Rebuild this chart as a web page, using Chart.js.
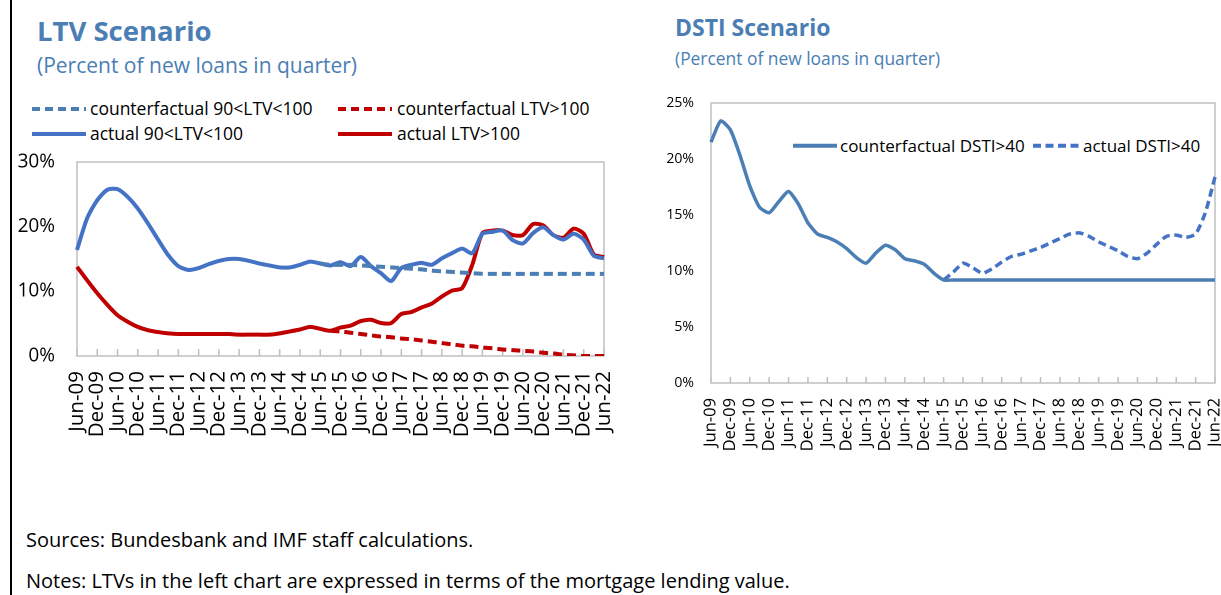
<!DOCTYPE html>
<html lang="en">
<head>
<meta charset="UTF-8">
<title>LTV and DSTI Scenario</title>
<script src="https://cdn.jsdelivr.net/npm/chart.js"></script>
<style>
    body {
        margin: 0;
        width: 1221px;
        height: 595px;
        position: relative;
        overflow: hidden;
        background: #fff;
        font-family: 'Open Sans', sans-serif;
        color: #000;
    }
    .rule {
        position: absolute;
        left: 10px;
        top: 0;
        width: 2px;
        height: 595px;
        background: #000;
    }
    .txt {
        position: absolute;
        line-height: 1;
        white-space: nowrap;
    }
    .title { color: #4a7eb4; font-weight: bold; }
    .sub { color: #4a7eb4; }
    .box { position: absolute; }
    .leg { position: absolute; white-space: nowrap; line-height: 1; }
    .leg svg { position: absolute; left: 0; }
</style>
</head>
<body>
<div class="rule"></div>

<div class="txt title" style="left:37px; top:17px; font-size:27.5px;">LTV Scenario</div>
<div class="txt sub" style="left:37px; top:55px; font-size:21px;">(Percent of new loans in quarter)</div>

<div class="txt title" style="left:675px; top:16px; font-size:23px;">DSTI Scenario</div>
<div class="txt sub" style="left:675px; top:50px; font-size:17.4px;">(Percent of new loans in quarter)</div>

<div id="ltvLegend"></div>
<div id="dstiLegend"></div>

<div class="box" style="left:0; top:140px; width:616px; height:310px;">
    <canvas id="ltvChart"></canvas>
</div>
<div class="box" style="left:640px; top:90px; width:581px; height:370px;">
    <canvas id="dstiChart"></canvas>
</div>

<div class="txt" style="left:26px; top:530px; font-size:20px;">Sources: Bundesbank and IMF staff calculations.</div>
<div class="txt" style="left:26px; top:571px; font-size:20px;">Notes: LTVs in the left chart are expressed in terms of the mortgage lending value.</div>

<script>
// quarters, Jun-09 .. Jun-22
const quarters = [
    'Jun-09', 'Sep-09', 'Dec-09',
    'Mar-10', 'Jun-10', 'Sep-10', 'Dec-10',
    'Mar-11', 'Jun-11', 'Sep-11', 'Dec-11',
    'Mar-12', 'Jun-12', 'Sep-12', 'Dec-12',
    'Mar-13', 'Jun-13', 'Sep-13', 'Dec-13',
    'Mar-14', 'Jun-14', 'Sep-14', 'Dec-14',
    'Mar-15', 'Jun-15', 'Sep-15', 'Dec-15',
    'Mar-16', 'Jun-16', 'Sep-16', 'Dec-16',
    'Mar-17', 'Jun-17', 'Sep-17', 'Dec-17',
    'Mar-18', 'Jun-18', 'Sep-18', 'Dec-18',
    'Mar-19', 'Jun-19', 'Sep-19', 'Dec-19',
    'Mar-20', 'Jun-20', 'Sep-20', 'Dec-20',
    'Mar-21', 'Jun-21', 'Sep-21', 'Dec-21',
    'Mar-22', 'Jun-22'
];

// LTV scenario (percent)
const actualLtv90 = [
    16.4, 21.3, 24.1, 25.7, 25.8, 24.6, 22.8, 20.5, 18.0, 15.6,
    13.9, 13.3, 13.6, 14.2, 14.7, 15.0, 15.0, 14.7, 14.3, 14.0,
    13.7, 13.7, 14.1, 14.6, 14.3, 14.0, 14.5, 13.9, 15.3, 13.9,
    12.8, 11.6, 13.6, 14.1, 14.4, 14.1, 15.1, 15.9, 16.6, 15.9,
    18.9, 19.2, 19.4, 17.9, 17.4, 19.0, 19.9, 18.7, 18.0, 18.9,
    18.0, 15.5, 15.1
];
const actualLtv100 = [
    13.8, 11.7, 9.7, 7.9, 6.3, 5.3, 4.5, 4.0, 3.7, 3.5,
    3.4, 3.4, 3.4, 3.4, 3.4, 3.4, 3.3, 3.3, 3.3, 3.3,
    3.5, 3.8, 4.1, 4.5, 4.2, 3.9, 4.4, 4.7, 5.4, 5.6,
    5.1, 5.1, 6.5, 6.8, 7.5, 8.1, 9.2, 10.1, 10.5, 14.1,
    19.0, 19.4, 19.4, 18.7, 18.7, 20.4, 20.2, 18.7, 18.3, 19.7,
    18.9, 15.7, 15.3
];
const cfLtv90 = [
    null, null, null, null, null, null, null, null, null, null,
    null, null, null, null, null, null, null, null, null, null,
    null, null, null, null, 14.3, 14.1, 14.1, 14.1, 14.0, 13.9,
    13.8, 13.7, 13.6, 13.5, 13.4, 13.2, 13.1, 13.0, 12.9, 12.8,
    12.7, 12.7, 12.7, 12.7, 12.7, 12.7, 12.7, 12.7, 12.7, 12.7,
    12.7, 12.7, 12.7
];
const cfLtv100 = [
    null, null, null, null, null, null, null, null, null, null,
    null, null, null, null, null, null, null, null, null, null,
    null, null, null, null, null, 3.9, 3.8, 3.6, 3.4, 3.2,
    3.0, 2.9, 2.7, 2.6, 2.4, 2.2, 2.0, 1.8, 1.6, 1.5,
    1.3, 1.2, 1.0, 0.9, 0.8, 0.7, 0.5, 0.4, 0.2, 0.1,
    0.0, 0.0, 0.0
];

// DSTI scenario (percent)
const cfDsti40 = [
    21.5, 23.4, 22.6, 20.3, 17.6, 15.7, 15.2, 16.2, 17.1, 16.0,
    14.3, 13.3, 13.0, 12.6, 12.0, 11.2, 10.7, 11.6, 12.3, 11.9,
    11.1, 10.9, 10.6, 9.8, 9.2, 9.2, 9.2, 9.2, 9.2, 9.2,
    9.2, 9.2, 9.2, 9.2, 9.2, 9.2, 9.2, 9.2, 9.2, 9.2,
    9.2, 9.2, 9.2, 9.2, 9.2, 9.2, 9.2, 9.2, 9.2, 9.2,
    9.2, 9.2, 9.2
];
const actualDsti40 = [
    null, null, null, null, null, null, null, null, null, null,
    null, null, null, null, null, null, null, null, null, null,
    null, null, null, null, 9.2, 9.9, 10.7, 10.3, 9.8, 10.2,
    10.8, 11.3, 11.5, 11.8, 12.1, 12.5, 12.9, 13.3, 13.4, 13.1,
    12.6, 12.2, 11.8, 11.3, 11.1, 11.6, 12.4, 13.1, 13.2, 13.0,
    13.3, 15.2, 18.4
];

const BLUE = '#4472c4';
const STEEL = '#4a7eb4';
const RED = '#c00000';

Chart.defaults.font.family = "'Open Sans', sans-serif";
Chart.defaults.color = '#000';

// plot box and small inward tick marks every second quarter
const plotFrame = {
    id: 'plotFrame',
    beforeDatasetsDraw(chart, args, opts) {
        const { ctx, chartArea: a, scales } = chart;
        const x = scales.x;
        ctx.save();
        ctx.strokeStyle = '#bfbfbf';
        ctx.lineWidth = 1.5;
        ctx.strokeRect(a.left, a.top, a.right - a.left, a.bottom - a.top);
        ctx.beginPath();
        for (let i = 0; i < x.ticks.length; i += 2) {
            const px = x.getPixelForTick(i);
            ctx.moveTo(px, a.bottom);
            ctx.lineTo(px, a.bottom - opts.len);
        }
        ctx.stroke();
        ctx.restore();
    }
};

function line(label, data, color, width, dash) {
    return {
        label: label,
        data: data,
        borderColor: color,
        backgroundColor: color,
        borderWidth: width,
        borderDash: dash || [],
        pointRadius: 0,
        fill: false,
        spanGaps: false
    };
}

// fixed axis size, and no extra room for labels sticking out at the ends
function fixSize(s, key, val) {
    s[key] = val;
    s.paddingLeft = 0;
    s.paddingRight = 0;
    s.paddingTop = 0;
    s.paddingBottom = 0;
}

function options(yMax, yStep, yWidth, xHeight, xFont, xPad, yFont, yPad, pad, tension, tickLen) {
    return {
        responsive: true,
        maintainAspectRatio: false,
        animation: false,
        devicePixelRatio: 2,
        layout: { padding: pad, autoPadding: false },
        elements: { line: { tension: tension, borderCapStyle: 'butt' } },
        plugins: {
            legend: { display: false },
            tooltip: { enabled: false },
            plotFrame: { len: tickLen }
        },
        scales: {
            x: {
                offset: false,
                grid: { display: false, drawTicks: false },
                border: { display: false },
                ticks: {
                    autoSkip: false,
                    maxRotation: 90,
                    minRotation: 90,
                    padding: xPad,
                    font: { size: xFont },
                    callback: (v, i) => (i % 2 ? '' : quarters[i])
                },
                afterFit: s => fixSize(s, 'height', xHeight)
            },
            y: {
                min: 0,
                max: yMax,
                grid: { display: false, drawTicks: false },
                border: { display: false },
                ticks: {
                    stepSize: yStep,
                    padding: yPad,
                    font: { size: yFont },
                    callback: v => v + '%'
                },
                afterFit: s => fixSize(s, 'width', yWidth)
            }
        }
    };
}

new Chart(document.getElementById('ltvChart'), {
    type: 'line',
    data: {
        labels: quarters,
        datasets: [
            line('counterfactual 90<LTV<100', cfLtv90, STEEL, 4, [9, 5]),
            line('counterfactual LTV>100', cfLtv100, RED, 4, [9, 5]),
            line('actual 90<LTV<100', actualLtv90, BLUE, 4),
            line('actual LTV>100', actualLtv100, RED, 4)
        ]
    },
    options: options(30, 10, 77, 94, 20.5, 15, 19, 22, { left: 0, right: 12, top: 22, bottom: 0 }, 0.25, 7),
    plugins: [plotFrame]
});

new Chart(document.getElementById('dstiChart'), {
    type: 'line',
    data: {
        labels: quarters,
        datasets: [
            line('counterfactual DSTI>40', cfDsti40, STEEL, 3.5),
            line('actual DSTI>40', actualDsti40, BLUE, 3.5, [8, 4.5])
        ]
    },
    options: options(25, 5, 71, 77, 16.5, 15, 14, 17, { left: 0, right: 6, top: 13, bottom: 0 }, 0.2, 6),
    plugins: [plotFrame]
});

// html legends
function legendItem(parent, x, y, color, dash, text, sw, tx, size) {
    const d = document.createElement('div');
    d.className = 'leg';
    d.style.left = x + 'px';
    d.style.top = y + 'px';
    d.style.fontSize = size + 'px';
    d.style.paddingLeft = tx + 'px';
    const mid = size * 0.52;
    d.innerHTML = '<svg width="' + sw + '" height="' + (size + 4) + '" style="top:0">' +
        '<line x1="0" y1="' + mid + '" x2="' + sw + '" y2="' + mid + '" stroke="' + color +
        '" stroke-width="4" stroke-dasharray="' + (dash ? dash.join(' ') : 'none') + '"/></svg>';
    d.appendChild(document.createTextNode(text));
    document.getElementById(parent).appendChild(d);
}

legendItem('ltvLegend', 32, 99.5, STEEL, [8, 5], 'counterfactual 90<LTV<100', 54, 58, 17.5);
legendItem('ltvLegend', 338, 99.5, RED, [8, 5], 'counterfactual LTV>100', 54, 59, 17.5);
legendItem('ltvLegend', 32, 125, BLUE, null, 'actual 90<LTV<100', 54, 58, 17.5);
legendItem('ltvLegend', 338, 125, RED, null, 'actual LTV>100', 54, 59, 17.5);

legendItem('dstiLegend', 793, 136.6, STEEL, null, 'counterfactual DSTI>40', 44, 47, 17);
legendItem('dstiLegend', 1033, 136.6, BLUE, [8, 4.5], 'actual DSTI>40', 48, 50, 17);
</script>
</body>
</html>
